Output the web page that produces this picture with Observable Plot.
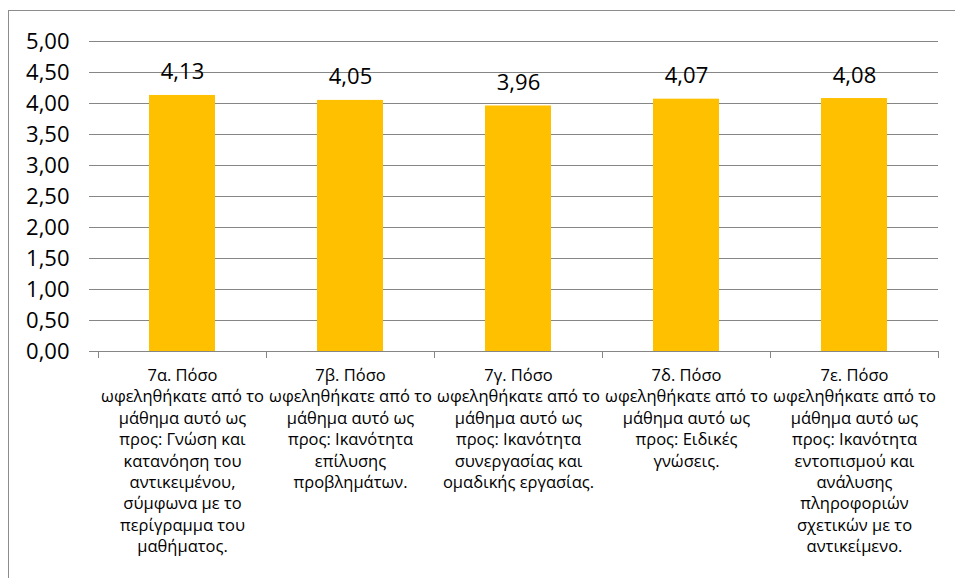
<!DOCTYPE html>
<html>
<head>
<meta charset="utf-8">
<script src="https://cdn.jsdelivr.net/npm/d3@7"></script>
<script src="https://cdn.jsdelivr.net/npm/@observablehq/plot@0.6"></script>
<style>
  html, body { margin: 0; padding: 0; background: #fff; }
  #chart { width: 955px; height: 578px; overflow: hidden; }
</style>
</head>
<body>
<div id="chart"></div>
<script>
const categories = ["7α", "7β", "7γ", "7δ", "7ε"];
const values = [4.13, 4.05, 3.96, 4.07, 4.08];
const labelLines = [
  ["7α. Πόσο", "ωφεληθήκατε από το", "μάθημα αυτό ως", "προς: Γνώση και", "κατανόηση του", "αντικειμένου,", "σύμφωνα με το", "περίγραμμα του", "μαθήματος."],
  ["7β. Πόσο", "ωφεληθήκατε από το", "μάθημα αυτό ως", "προς: Ικανότητα", "επίλυσης", "προβλημάτων."],
  ["7γ. Πόσο", "ωφεληθήκατε από το", "μάθημα αυτό ως", "προς: Ικανότητα", "συνεργασίας και", "ομαδικής εργασίας."],
  ["7δ. Πόσο", "ωφεληθήκατε από το", "μάθημα αυτό ως", "προς: Ειδικές", "γνώσεις."],
  ["7ε. Πόσο", "ωφεληθήκατε από το", "μάθημα αυτό ως", "προς: Ικανότητα", "εντοπισμού και", "ανάλυσης", "πληροφοριών", "σχετικών με το", "αντικείμενο."]
];
const yTicks = [0, 0.5, 1, 1.5, 2, 2.5, 3, 3.5, 4, 4.5, 5];

const data = categories.map((c, i) => ({cat: c, value: values[i], label: labelLines[i].join("\n")}));
const fmt = v => v.toFixed(2).replace(".", ",");
const font = "'Open Sans', 'Noto Sans', sans-serif";
const axisColor = "#868686";

const plot = Plot.plot({
  width: 955,
  height: 578,
  marginLeft: 97,
  marginRight: 17,
  marginTop: 41,
  marginBottom: 227,
  style: {fontFamily: font, background: "#fff", overflow: "visible"},
  x: {domain: categories, paddingInner: 0.61, paddingOuter: 0.305, axis: null},
  y: {domain: [0, 5], axis: null},
  marks: [
    Plot.ruleY(yTicks, {stroke: axisColor, strokeWidth: 1}),
    Plot.ruleX([0], {frameAnchor: "left", stroke: axisColor, y1: 0, y2: 5}),
    Plot.barY(data, {x: "cat", y: "value", fill: "#FFC000"}),
    Plot.text(data, {x: "cat", y: "value", text: d => fmt(d.value), lineAnchor: "bottom", dy: -16, fontSize: 22, fill: "#000"}),
    Plot.text(data, {x: "cat", y: 0, text: "label", lineAnchor: "top", dy: 14, fontSize: 16.5, lineHeight: 1.3, fill: "#000"}),
    Plot.text(yTicks, {y: d => d, text: d => fmt(d), frameAnchor: "left", textAnchor: "end", dx: -28, fontSize: 22, fill: "#000"})
  ]
});

document.getElementById("chart").appendChild(plot);

// Post-render: y-axis tick marks, category boundary ticks, outer border
const svg = d3.select(plot);
const xs = plot.scale("x");
const ys = plot.scale("y");
const step = xs.step;
const x0 = xs.apply(categories[0]) - step * 0.305;
const yZero = ys.apply(0);
const g = svg.append("g").attr("stroke", axisColor).attr("stroke-width", 1);
yTicks.forEach(t => {
  const yy = Math.round(ys.apply(t)) + 0.5;
  g.append("line").attr("x1", 89).attr("x2", 97).attr("y1", yy).attr("y2", yy);
});
for (let i = 0; i <= categories.length; i++) {
  const xx = Math.round(x0 + i * step) + 0.5;
  g.append("line").attr("x1", xx).attr("x2", xx).attr("y1", yZero).attr("y2", yZero + 7);
}
svg.append("rect")
  .attr("x", 8.5).attr("y", 10.5)
  .attr("width", 960).attr("height", 600)
  .attr("fill", "none").attr("stroke", "#8c8c8c").attr("stroke-width", 1);
</script>
</body>
</html>
